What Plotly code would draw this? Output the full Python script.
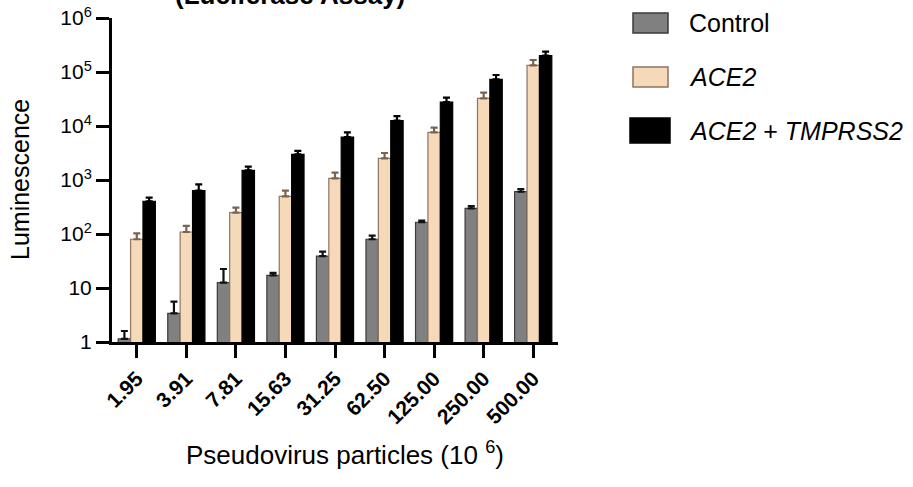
import plotly.graph_objects as go

# ---------------- data ----------------
categories = ["1.95", "3.91", "7.81", "15.63", "31.25", "62.50", "125.00", "250.00", "500.00"]
control = [1.14, 3.4, 12.6, 17.2, 39, 80, 165, 299, 608]
control_err = [0.46, 2.2, 9.9, 1.8, 8, 13, 13, 31, 73]
ace2 = [80, 109, 248, 499, 1070, 2510, 7640, 32500, 133000]
ace2_err = [23, 33, 59, 136, 297, 650, 1690, 8900, 33700]
ace2_tmprss2 = [404, 635, 1512, 2986, 6250, 12530, 27800, 73100, 200400]
ace2_tmprss2_err = [66, 195, 253, 484, 1390, 2770, 5600, 14800, 37400]

y_tickvals = [1, 10, 100, 1000, 10000, 100000, 1000000]
y_ticktext = ["1", "10", "10<sup>2</sup>", "10<sup>3</sup>", "10<sup>4</sup>", "10<sup>5</sup>", "10<sup>6</sup>"]

series_names = ["Control", "<i>ACE2</i>", "<i>ACE2</i> + <i>TMPRSS2</i>"]

# ---------------- styles ----------------
FONT = "Arial, Liberation Sans, Helvetica, sans-serif"
W, H = 913, 487
L, R, T, B = 112, 355, 18, 145
fills = ["#808080", "#F5D9B8", "#000000"]
edges = ["#3a3a3a", "#8C7660", "#000000"]
errcol = ["#111111", "#7A644E", "#000000"]

fig = go.Figure()
for vals, errs, fc, ec, erc, nm in zip(
    [control, ace2, ace2_tmprss2],
    [control_err, ace2_err, ace2_tmprss2_err],
    fills, edges, errcol, series_names,
):
    fig.add_trace(go.Bar(
        x=categories, y=vals, name=nm,
        marker=dict(color=fc, line=dict(color=ec, width=1.2)),
        error_y=dict(type="data", array=errs, arrayminus=[0] * len(errs),
                     symmetric=False, color=erc, thickness=2.2, width=3.5),
        showlegend=False,
    ))

pw = W - L - R
ph = H - T - B


def px(x):
    return (x - L) / pw


def py(y):
    return (H - B - y) / ph


shapes = []
annotations = []
# manual legend
legend_rows = [(633, 668, 13, 33), (633, 668, 67, 87), (630, 670, 118, 143)]
legend_cy = [23, 77, 131]
for (x0, x1, y0, y1), fc, ec, nm, cy in zip(legend_rows, fills, edges, series_names, legend_cy):
    shapes.append(dict(type="rect", xref="paper", yref="paper",
                       x0=px(x0), x1=px(x1), y0=py(y1), y1=py(y0),
                       fillcolor=fc, line=dict(color=ec, width=1.5)))
    annotations.append(dict(text=nm, xref="paper", yref="paper", x=px(687), y=py(cy),
                            xanchor="left", yanchor="middle", showarrow=False,
                            font=dict(family=FONT, size=25, color="#000")))

# title (cut off at top in the reference)
annotations.append(dict(text="<b>(Luciferase Assay)</b>", xref="paper", yref="paper",
                        x=px(290), y=py(12), xanchor="center", yanchor="bottom",
                        showarrow=False, font=dict(family=FONT, size=26, color="#000")))
# axis titles
annotations.append(dict(text="Luminescence", xref="paper", yref="paper",
                        x=px(20), y=py(180), xanchor="center", yanchor="middle",
                        textangle=-90, showarrow=False,
                        font=dict(family=FONT, size=25, color="#000")))
annotations.append(dict(text="Pseudovirus particles (10 <sup>6</sup>)", xref="paper", yref="paper",
                        x=px(345), y=py(453), xanchor="center", yanchor="middle",
                        showarrow=False, font=dict(family=FONT, size=26, color="#000")))

fig.update_layout(
    width=W, height=H,
    margin=dict(l=L, r=R, t=T, b=B, autoexpand=False),
    paper_bgcolor="white", plot_bgcolor="white",
    barmode="group", bargap=0.25, bargroupgap=0,
    shapes=shapes, annotations=annotations,
    font=dict(family=FONT, color="#000"),
)
fig.update_xaxes(
    type="category", range=[-0.5, 8.5], showline=True, linecolor="#000", linewidth=3,
    ticks="outside", ticklen=13, tickwidth=3, tickcolor="#000",
    tickangle=-45, tickfont=dict(family=FONT, size=21, color="#000", weight="bold"),
    showgrid=False, zeroline=False, automargin=False,
)
fig.update_yaxes(
    type="log", range=[0, 6], showline=True, linecolor="#000", linewidth=3,
    ticks="outside", ticklen=13, tickwidth=3, tickcolor="#000",
    tickvals=y_tickvals, ticktext=y_ticktext,
    tickfont=dict(family=FONT, size=21, color="#000"),
    showgrid=False, zeroline=False, automargin=False,
)

fig.write_html("out.html")
